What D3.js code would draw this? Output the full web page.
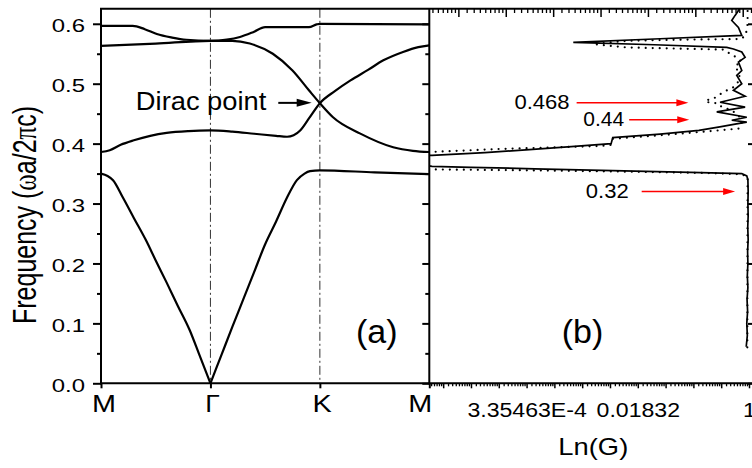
<!DOCTYPE html>
<html>
<head>
<meta charset="utf-8">
<script src="https://cdn.jsdelivr.net/npm/d3@7"></script>
<style>
  body { margin: 0; background: #fff; }
  svg text { font-family: "Liberation Sans", Arial, sans-serif; fill: #000; }
</style>
</head>
<body>
<svg id="chart" width="752" height="468"></svg>
<script>
// (a) band structure: [k index along M-G-K-M, frequency]
var kLabels = ["M", "\u0393", "K", "M"];
var kPos = [0, 1, 2, 3];
var band1a = [[0, 0.35], [0.06, 0.346], [0.11, 0.339], [0.2, 0.31], [0.3, 0.276], [0.41, 0.239],
  [0.5, 0.205], [0.6, 0.168], [0.7, 0.13], [0.81, 0.089], [0.9, 0.047], [1, 0]];
var band1b = [[1, 0], [1.1, 0.047], [1.2, 0.094], [1.3, 0.14], [1.4, 0.186], [1.5, 0.232], [1.6, 0.27],
  [1.7, 0.31], [1.79, 0.339], [1.86, 0.35], [1.91, 0.354], [2, 0.3555], [2.5, 0.352], [3, 0.349]];
var band2 = [[0, 0.386], [0.08, 0.389], [0.18, 0.398], [0.3, 0.4055], [0.45, 0.413], [0.6, 0.418],
  [0.8, 0.421], [1, 0.422], [1.2, 0.42], [1.4, 0.4165], [1.6, 0.413], [1.7, 0.4115], [1.76, 0.414],
  [1.82, 0.422], [1.9, 0.442], [2, 0.4675], [2.14, 0.488], [2.28, 0.5055], [2.44, 0.523],
  [2.58, 0.539], [2.76, 0.553], [2.9, 0.561], [3, 0.564]];
var band3 = [[0, 0.563], [0.5, 0.567], [1, 0.5715], [1.2, 0.5715], [1.36, 0.567], [1.57, 0.55],
  [1.75, 0.522], [1.9, 0.489], [2, 0.4675], [2.12, 0.444], [2.37, 0.4167], [2.67, 0.394],
  [2.85, 0.388], [3, 0.386]];
var band4 = [[0, 0.5965], [0.29, 0.5965], [0.4, 0.591], [0.51, 0.583], [0.65, 0.577], [0.78, 0.5733],
  [1, 0.5715], [1.15, 0.5735], [1.27, 0.578], [1.39, 0.586], [1.5, 0.5945], [1.9, 0.5945],
  [1.97, 0.599], [2, 0.6], [3, 0.599]];
var freqTicks = [0, 0.1, 0.2, 0.3, 0.4, 0.5, 0.6];
var freqMinor = [0.05, 0.15, 0.25, 0.35, 0.45, 0.55];

// (b) transmission: [frequency, ln(G)]
var solidT = [[0.061, -0.10], [0.08, -0.06], [0.10, -0.08], [0.12, -0.05], [0.14, -0.07], [0.16, -0.04],
  [0.18, -0.06], [0.20, -0.04], [0.22, -0.05], [0.24, -0.03], [0.26, -0.045], [0.28, -0.03],
  [0.30, -0.04], [0.32, -0.03], [0.34, -0.04], [0.346, -0.08], [0.350, -0.26], [0.352, -2.1],
  [0.355, -4.9], [0.358, -7.7], [0.3605, -10.0], [0.362, -11.4], [0.364, -11.7], [0.367, -13],
  [0.375, -14], [0.378, -13], [0.3805, -11.4], [0.385, -9.5], [0.390, -7.9], [0.395, -6.4],
  [0.400, -4.96], [0.410, -4.9], [0.416, -3.2], [0.422, -1.8], [0.428, -1.05], [0.433, -0.45],
  [0.436, -0.08], [0.439, -0.62], [0.444, -0.08], [0.453, -1.16], [0.461, -0.14], [0.469, -1.04],
  [0.479, -0.14], [0.489, -0.56], [0.500, -0.26], [0.514, -0.44], [0.522, -0.26], [0.536, -0.38],
  [0.544, -0.14], [0.553, -0.26], [0.558, -0.56], [0.5605, -0.8], [0.565, -3.4], [0.569, -6.32],
  [0.575, -3.2], [0.5805, -0.26], [0.594, -0.38], [0.6055, -0.62], [0.614, -0.5], [0.622, -0.38],
  [0.63, -0.3]];
var dottedT = [[0.06, -0.06], [0.345, -0.05], [0.349, -0.3], [0.351, -1.6], [0.3535, -4.8],
  [0.3555, -8.0], [0.357, -11.5], [0.359, -13], [0.375, -14], [0.383, -13], [0.386, -11.5],
  [0.391, -9.0], [0.396, -5.36], [0.398, -4.96], [0.408, -4.9], [0.414, -3.2], [0.420, -1.6],
  [0.425, -0.38], [0.432, -0.25], [0.445, -0.35], [0.455, -0.6], [0.462, -1.0], [0.467, -1.10],
  [0.469, -1.46], [0.472, -1.58], [0.475, -1.28], [0.486, -0.92], [0.494, -0.56], [0.500, -0.44],
  [0.508, -0.32], [0.519, -0.38], [0.530, -0.5], [0.536, -0.26], [0.542, -0.38], [0.550, -0.68],
  [0.557, -0.92], [0.5585, -2.5], [0.5605, -4.4], [0.566, -5.6], [0.5715, -4.4], [0.5735, -2.5],
  [0.5745, -0.3], [0.58, -0.12], [0.6, -0.05], [0.63, -0.05]];
var lnTicks = [-8, -4, 0];
var lnTickLabels = ["3.35463E-4", "0.01832", "1"];

// annotations
var arrowText = ["0.468", "0.44", "0.32"];
var arrowFreq = [0.468, 0.44, 0.32];
var arrowFrom = [-6.2, -4.31, -3.86];
var arrowTo = [-2.18, -2.15, -0.5];
var diracFreq = 0.468;

var svg = d3.select("#chart");

var y = d3.scaleLinear().domain([0, 0.625]).range([383.3, 8.8]);
var xK = d3.scaleLinear().domain([0, 3]).range([101, 429.3]);
var xG = d3.scaleLinear().domain([-11.51, 0.144]).range([429, 753]);
var xTop = d3.scaleLinear().domain([-6.62, 0.217]).range([429, 753]);

// ln-scale minor ticks between e^n and e^(n+1)
function lnMinor(lo, hi) {
  var out = [];
  for (var n = Math.floor(lo) - 1; n <= hi; n++) {
    for (var k = 1; k <= 8; k++) {
      var v = n + Math.log(1 + k * (Math.E - 1) / 9);
      if (v > lo && v < hi) out.push(v);
    }
  }
  return out;
}

function styleAxis(g, w) {
  g.select(".domain").remove();
  g.selectAll(".tick line").attr("stroke", "#000").attr("stroke-width", w);
  return g;
}

svg.append("clipPath").attr("id", "clipB")
  .append("rect").attr("x", 429).attr("y", 8.8).attr("width", 324).attr("height", 374.5);

// dash-dot guides at Gamma and K
[1, 2].forEach(function(k) {
  svg.append("line")
    .attr("x1", xK(k)).attr("x2", xK(k))
    .attr("y1", y(0.625)).attr("y2", y(0))
    .attr("stroke", "#333").attr("stroke-width", 1)
    .attr("stroke-dasharray", "9,3,2,3");
});

// bands
var bandLine = d3.line()
  .x(function(d) { return xK(d[0]); })
  .y(function(d) { return y(d[1]); })
  .curve(d3.curveMonotoneX);

[band1a, band1b, band2, band3, band4].forEach(function(b) {
  svg.append("path").attr("d", bandLine(b))
    .attr("fill", "none").attr("stroke", "#000").attr("stroke-width", 2.2);
});

// transmission curves
var tLine = d3.line()
  .x(function(d) { return xG(d[1]); })
  .y(function(d) { return y(d[0]); });

var gB = svg.append("g").attr("clip-path", "url(#clipB)");
gB.append("path").attr("d", tLine(dottedT))
  .attr("fill", "none").attr("stroke", "#000").attr("stroke-width", 2.2)
  .attr("stroke-linecap", "round").attr("stroke-dasharray", "0,7");
gB.append("path").attr("d", tLine(solidT))
  .attr("fill", "none").attr("stroke", "#000").attr("stroke-width", 1.7);

// left y axis
styleAxis(svg.append("g").attr("transform", "translate(101,0)")
  .call(d3.axisLeft(y).tickValues(freqMinor).tickSize(4).tickFormat("")), 2);
var ya = styleAxis(svg.append("g").attr("transform", "translate(101,0)")
  .call(d3.axisLeft(y).tickValues(freqTicks).tickSize(8).tickPadding(4).tickFormat(d3.format(".1f"))), 2);
ya.selectAll("text").attr("font-size", 18).attr("font-family", null)
  .attr("dy", "0.43em").attr("transform", "scale(1.33,1)");

// shared middle axis (left side of panel b)
styleAxis(svg.append("g").attr("transform", "translate(429.3,0)")
  .call(d3.axisLeft(y).tickValues(freqMinor).tickSize(4).tickFormat("")), 2);
styleAxis(svg.append("g").attr("transform", "translate(429.3,0)")
  .call(d3.axisLeft(y).tickValues(freqTicks).tickSize(7).tickFormat("")), 2);

// right edge ticks of panel b
styleAxis(svg.append("g").attr("transform", "translate(753,0)")
  .call(d3.axisLeft(y).tickValues(freqTicks).tickSize(5).tickFormat("")), 2);

// bottom axis panel a
var xa = styleAxis(svg.append("g").attr("transform", "translate(0,383.3)")
  .call(d3.axisBottom(xK).tickValues(kPos).tickSize(5).tickPadding(7)
    .tickFormat(function(d, i) { return kLabels[i]; })), 2);
xa.selectAll("text").attr("font-size", 24).attr("font-family", null)
  .attr("transform", "scale(1.2,1)")
  .attr("x", function(d, i) { return i === 0 ? 2 : (i === 3 ? 2 : 1.5); })
  .attr("text-anchor", function(d, i) { return i === 3 ? "end" : "middle"; });
xa.selectAll("text").filter(function(d, i) { return i === 1; })
  .attr("font-family", "'Liberation Serif', 'Times New Roman', serif").attr("transform", "scale(1.1,1)");

// bottom axis panel b
styleAxis(svg.append("g").attr("transform", "translate(0,383.3)")
  .call(d3.axisBottom(xG).tickValues(lnMinor(-11.51, 0.144)).tickSize(3).tickFormat("")), 1.3);
var xb = styleAxis(svg.append("g").attr("transform", "translate(0,383.3)")
  .call(d3.axisBottom(xG).tickValues(d3.range(-11, 1)).tickSize(5).tickPadding(13.5)
    .tickFormat(function(d) { var i = lnTicks.indexOf(d); return i < 0 ? "" : lnTickLabels[i]; })), 1.5);
xb.selectAll("text").attr("font-size", 21).attr("font-family", null).attr("transform", "scale(1.1,1)");

// top axis panel b (inward ticks)
styleAxis(svg.append("g").attr("transform", "translate(0,9)")
  .call(d3.axisBottom(xTop).tickValues(lnMinor(-6.62, 0.217)).tickSize(4).tickFormat("")), 1.3);
styleAxis(svg.append("g").attr("transform", "translate(0,9)")
  .call(d3.axisBottom(xTop).tickValues(d3.range(-6, 1)).tickSize(8).tickFormat("")), 1.5);

// frame lines
svg.append("line").attr("x1", 100).attr("x2", 753).attr("y1", 383.3).attr("y2", 383.3)
  .attr("stroke", "#000").attr("stroke-width", 2);
svg.append("line").attr("x1", 100).attr("x2", 753).attr("y1", 8.8).attr("y2", 8.8)
  .attr("stroke", "#000").attr("stroke-width", 2);
svg.append("line").attr("x1", 101).attr("x2", 101).attr("y1", 8).attr("y2", 384.3)
  .attr("stroke", "#000").attr("stroke-width", 2);
svg.append("line").attr("x1", 429.3).attr("x2", 429.3).attr("y1", 8).attr("y2", 384.3)
  .attr("stroke", "#000").attr("stroke-width", 2);

function addText(txt, x, yy, size, sx, anchor) {
  return svg.append("text")
    .attr("transform", "translate(" + x + "," + yy + ") scale(" + sx + ",1)")
    .attr("font-size", size).attr("text-anchor", anchor).text(txt);
}

function arrow(x0, x1, yy, color, w, headLen, headW) {
  svg.append("line").attr("x1", x0).attr("x2", x1 - headLen + 1).attr("y1", yy).attr("y2", yy)
    .attr("stroke", color).attr("stroke-width", w);
  svg.append("path")
    .attr("d", "M" + x1 + "," + yy + "L" + (x1 - headLen) + "," + (yy - headW) +
      "L" + (x1 - headLen) + "," + (yy + headW) + "Z")
    .attr("fill", color);
}

// Dirac point label
arrow(xK(1.62), xK(1.925), y(diracFreq), "#000", 2, 15, 4);
addText("Dirac point", xK(1.62) - 12, y(diracFreq) + 7, 26, 1.05, "end");

// red markers in (b)
var gaps = [7, 5, 13];
arrowText.forEach(function(t, i) {
  var yy = y(arrowFreq[i]);
  arrow(xG(arrowFrom[i]), xG(arrowTo[i]), yy, "#ff0000", 1.5, 12, 3.5);
  addText(t, xG(arrowFrom[i]) - gaps[i], yy + 6, i === 1 ? 20 : 21, 1.05, "end");
});

// panel tags
addText("(a)", xK(2.52), 343, 34, 1, "middle");
addText("(b)", xG(-5.99), 343, 34, 1, "middle");

// axis titles
addText("Ln(G)", 593.3, 455, 23, 1.19, "middle");
var yl = svg.append("text")
  .attr("transform", "translate(36,215) rotate(-90) scale(1,1.33)")
  .attr("text-anchor", "middle").attr("font-size", 25);
yl.append("tspan").text("Frequency (");
yl.append("tspan").attr("font-family", "'Liberation Serif', serif").text("\u03c9");
yl.append("tspan").text("a/2");
yl.append("tspan").attr("font-family", "'Liberation Serif', serif").text("\u03c0");
yl.append("tspan").text("c)");
</script>
</body>
</html>
